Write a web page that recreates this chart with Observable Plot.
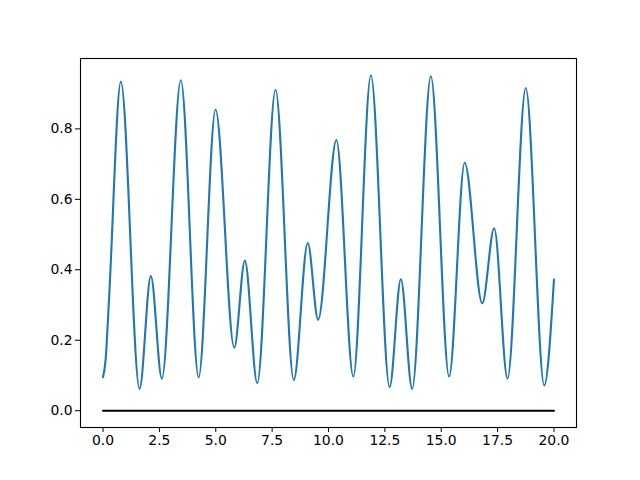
<!DOCTYPE html>
<html>
<head>
<meta charset="utf-8">
<script src="https://cdn.jsdelivr.net/npm/d3@7"></script>
<script src="https://cdn.jsdelivr.net/npm/@observablehq/plot@0.6"></script>
<style>
  html, body { margin: 0; padding: 0; background: #fff; }
  #chart svg { display: block; }
</style>
</head>
<body>
<div id="chart"></div>
<script>
const curveX = [0, 0.11, 0.26, 0.79, 1.62, 2.12, 2.61, 3.45, 4.24, 4.99, 5.82, 6.29, 6.84, 7.65, 8.46, 9.08, 9.54, 10.35, 11.10, 11.88, 12.71, 13.21, 13.71, 14.54, 15.35, 16.04, 16.82, 17.35, 17.94, 18.75, 19.57, 20];
const curveY = [0.095, 0.142, 0.31, 0.934, 0.062, 0.382, 0.091, 0.938, 0.095, 0.855, 0.179, 0.426, 0.078, 0.911, 0.087, 0.476, 0.258, 0.768, 0.097, 0.952, 0.067, 0.373, 0.062, 0.949, 0.097, 0.704, 0.305, 0.518, 0.091, 0.916, 0.072, 0.372];
const baseX = [0, 20];
const baseY = [0, 0];
const xTicks = [0, 2.5, 5, 7.5, 10, 12.5, 15, 17.5, 20];
const yTicks = [0, 0.2, 0.4, 0.6, 0.8];

const curve = curveX.map((x, i) => ({x, y: curveY[i]}));
const base = baseX.map((x, i) => ({x, y: baseY[i]}));

const chart = Plot.plot({
  width: 640,
  height: 480,
  marginLeft: 80,
  marginRight: 64,
  marginTop: 58,
  marginBottom: 53,
  style: {fontFamily: "DejaVu Sans", fontSize: "13.9px", background: "#fff", color: "#000"},
  x: {domain: [-1, 21]},
  y: {domain: [-0.0476, 0.9997]},
  marks: [
    Plot.line(curve, {x: "x", y: "y", stroke: "#1f77b4", strokeWidth: 2.1, curve: "monotone-x"}),
    Plot.line(base, {x: "x", y: "y", stroke: "#000", strokeWidth: 2.1}),
    Plot.frame({stroke: "#000", strokeWidth: 1.1}),
    Plot.axisX({ticks: xTicks, tickFormat: d3.format(".1f"), tickSize: 5, tickPadding: 3, label: null, fontSize: 13.9}),
    Plot.axisY({ticks: yTicks, tickFormat: d3.format(".1f"), tickSize: 5, tickPadding: 3, label: null, fontSize: 13.9})
  ]
});
document.getElementById("chart").appendChild(chart);
</script>
</body>
</html>
